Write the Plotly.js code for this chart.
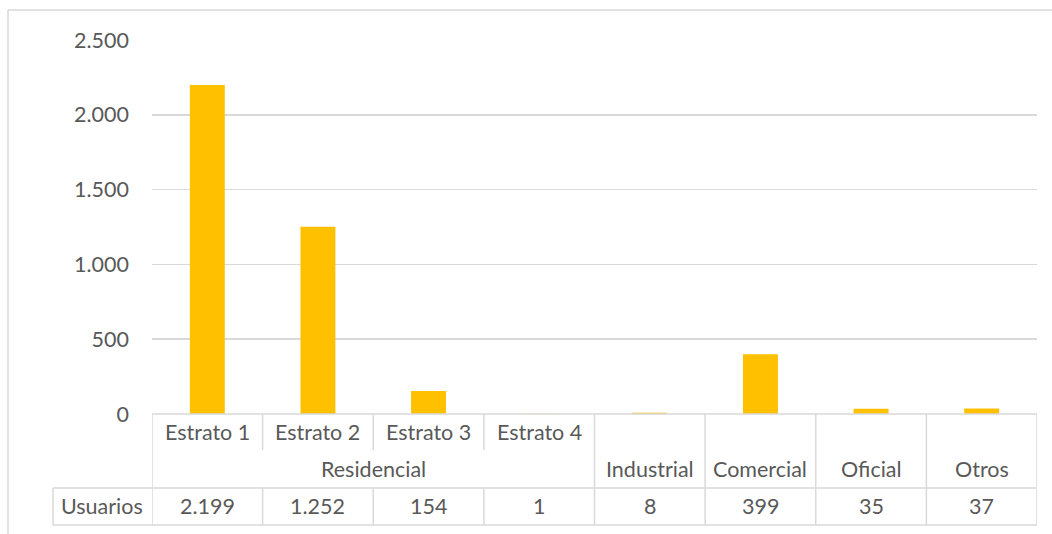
<!DOCTYPE html>
<html>
<head>
<meta charset="utf-8">
<script src="https://cdn.plot.ly/plotly-3.0.1.min.js"></script>
<style>
  html, body { margin: 0; padding: 0; background: #fff; }
  #chart { width: 1052px; height: 534px; }
</style>
</head>
<body>
<div id="chart"></div>
<script>
// ---- Data ----
const seriesName = 'Usuarios';
const subCategories = ['Estrato 1', 'Estrato 2', 'Estrato 3', 'Estrato 4', '', '', '', ''];
const groupLabels = ['Residencial', 'Industrial', 'Comercial', 'Oficial', 'Otros'];
const groupSpans = [4, 1, 1, 1, 1];   // number of categories each group covers
const usuarios = [2199, 1252, 154, 1, 8, 399, 35, 37];
const yTicks = [0, 500, 1000, 1500, 2000, 2500];

// ---- Helpers ----
function fmt(n) {
  return String(n).replace(/\B(?=(\d{3})+(?!\d))/g, '.');
}

const textColor = '#595959';
const lineColor = '#D9D9D9';
const fontFamily = 'Lato, Carlito, Calibri, sans-serif';
const fontSize = 21.5;

const idx = usuarios.map((_, i) => i);

const trace = {
  type: 'bar',
  x: idx,
  y: usuarios,
  name: seriesName,
  marker: { color: '#FFC000' },
  hoverinfo: 'skip'
};

// paper-y positions for table rows (plot area height 374px, bottom at paper 0)
const H = 374;
const yRow1 = -36 / H;     // line under Estrato row (partial)
const yRow2 = -74 / H;     // line above data row
const yRow3 = -111 / H;    // bottom of table
const xUsuLeft = (53 - 152) / 885;

const shapes = [];
const L = (s) => Object.assign({ type: 'line', line: { color: lineColor, width: 1.5 }, layer: 'above' }, s);

// top line of table (axis line)
shapes.push(L({ xref: 'paper', yref: 'paper', x0: 0, x1: 1, y0: 0, y1: 0 }));
// data row lines
shapes.push(L({ xref: 'paper', yref: 'paper', x0: xUsuLeft, x1: 1, y0: yRow2, y1: yRow2 }));
shapes.push(L({ xref: 'paper', yref: 'paper', x0: xUsuLeft, x1: 1, y0: yRow3, y1: yRow3 }));
// Usuarios cell left edge
shapes.push(L({ xref: 'paper', yref: 'paper', x0: xUsuLeft, x1: xUsuLeft, y0: yRow2, y1: yRow3 }));

// vertical boundaries
let groupBounds = [0];
groupSpans.forEach(s => groupBounds.push(groupBounds[groupBounds.length - 1] + s));
for (let b = 0; b <= usuarios.length; b++) {
  const xb = b - 0.5;
  const isGroupBound = groupBounds.includes(b);
  if (isGroupBound) {
    shapes.push(L({ xref: 'x', yref: 'paper', x0: xb, x1: xb, y0: 0, y1: yRow3 }));
  } else {
    shapes.push(L({ xref: 'x', yref: 'paper', x0: xb, x1: xb, y0: 0, y1: yRow1 }));
    shapes.push(L({ xref: 'x', yref: 'paper', x0: xb, x1: xb, y0: yRow2, y1: yRow3 }));
  }
}

// outer chart border (left and top)
const xBorder = (8 - 152) / 885;
const yBorderTop = (414 - 10) / H;
shapes.push(L({ xref: 'paper', yref: 'paper', x0: xBorder, x1: xBorder, y0: yBorderTop, y1: -0.5 }));
shapes.push(L({ xref: 'paper', yref: 'paper', x0: xBorder, x1: 1.2, y0: yBorderTop, y1: yBorderTop }));

const annotations = [];
const A = (s) => Object.assign({ showarrow: false, font: { family: fontFamily, size: fontSize, color: textColor }, xanchor: 'center', yanchor: 'middle' }, s);

subCategories.forEach((s, i) => {
  if (s) annotations.push(A({ xref: 'x', yref: 'paper', x: i, y: -18 / H, text: s }));
});
groupLabels.forEach((g, gi) => {
  const start = groupBounds[gi], end = groupBounds[gi + 1] - 1;
  annotations.push(A({ xref: 'x', yref: 'paper', x: (start + end) / 2, y: -55 / H, text: g }));
});
usuarios.forEach((v, i) => {
  annotations.push(A({ xref: 'x', yref: 'paper', x: i, y: -92 / H, text: fmt(v) }));
});
annotations.push(A({ xref: 'paper', yref: 'paper', x: (102 - 152) / 885, y: -92 / H, text: seriesName }));

const layout = {
  width: 1052,
  height: 534,
  margin: { l: 152, r: 15, t: 40, b: 120 },
  paper_bgcolor: '#ffffff',
  plot_bgcolor: '#ffffff',
  showlegend: false,
  separators: ',.',
  bargap: 0.684,
  font: { family: fontFamily, size: fontSize, color: textColor },
  xaxis: {
    range: [-0.5, usuarios.length - 0.5],
    showticklabels: false,
    showgrid: false,
    zeroline: false,
    showline: false,
    ticks: '',
    fixedrange: true
  },
  yaxis: {
    range: [0, 2500],
    tickvals: yTicks,
    ticktext: yTicks.map(fmt),
    showgrid: true,
    gridcolor: lineColor,
    gridwidth: 1.5,
    zeroline: false,
    showline: false,
    ticks: '',
    ticklabelstandoff: 22,
    tickfont: { family: fontFamily, size: fontSize, color: textColor },
    fixedrange: true
  },
  shapes: shapes,
  annotations: annotations
};

Plotly.newPlot('chart', [trace], layout, { displayModeBar: false, staticPlot: true });
</script>
</body>
</html>
